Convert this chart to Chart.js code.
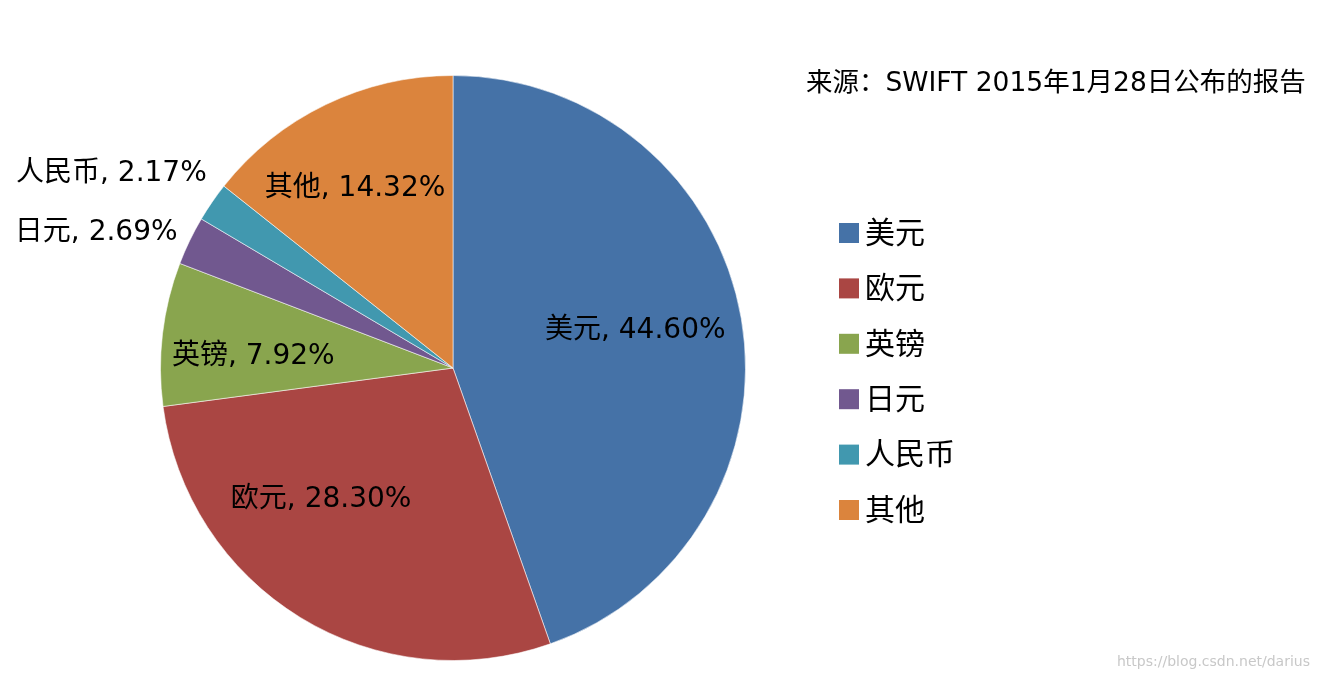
<!DOCTYPE html>
<html>
<head>
<meta charset="utf-8">
<script src="https://cdn.jsdelivr.net/npm/chart.js@4"></script>
<style>
  html, body { margin: 0; padding: 0; background: #fff; }
  #wrap { width: 1318px; height: 680px; }
</style>
</head>
<body>
<div id="wrap"><canvas id="grafico"></canvas></div>
<script>
// 数据
const monedas = ["美元", "欧元", "英镑", "日元", "人民币", "其他"];
const porcentajes = [44.60, 28.30, 7.92, 2.69, 2.17, 14.32];
const colores = ["#4572A7", "#AA4643", "#89A54E", "#71588F", "#4198AF", "#DB843D"];
const fuente = "来源：SWIFT 2015年1月28日公布的报告";
const marcaAgua = "https://blog.csdn.net/darius";

const FAMILIA = '"DejaVu Sans", "Noto Sans CJK SC", sans-serif';

// Etiquetas de cada sector, leyenda y textos
const textosPlugin = {
  id: "textos",
  afterDatasetsDraw(chart) {
    const ctx = chart.ctx;
    const arcos = chart.getDatasetMeta(0).data;
    // pequeños ajustes de las etiquetas (como el "mejor ajuste" de Excel)
    const ajustes = [[-8, -5], [-31, -33], [-8, 11], [9, 2], [14, -15], [-14, -5]];
    ctx.save();
    ctx.fillStyle = "#000";
    ctx.textBaseline = "middle";
    ctx.font = "28px " + FAMILIA;

    arcos.forEach((arco, i) => {
      const { x, y, startAngle, endAngle, outerRadius } = arco.getProps(
        ["x", "y", "startAngle", "endAngle", "outerRadius"], true);
      const medio = (startAngle + endAngle) / 2;
      const texto = monedas[i] + ", " + porcentajes[i].toFixed(2) + "%";
      const [dx, dy] = ajustes[i];
      if (porcentajes[i] > 5) {
        const r = outerRadius * 0.66;
        ctx.textAlign = "center";
        ctx.fillText(texto, x + Math.cos(medio) * r + dx, y + Math.sin(medio) * r + dy);
      } else {
        // sectores pequeños: etiqueta fuera del pastel
        const r = outerRadius * 1.08;
        ctx.textAlign = "right";
        ctx.fillText(texto, x + Math.cos(medio) * r + dx, y + Math.sin(medio) * r + dy);
      }
    });

    // leyenda
    ctx.font = "30px " + FAMILIA;
    ctx.textAlign = "left";
    monedas.forEach((m, i) => {
      const cy = 233 + i * 55.4;
      ctx.fillStyle = colores[i];
      ctx.fillRect(839, cy - 10, 20, 20);
      ctx.fillStyle = "#000";
      ctx.fillText(m, 865, cy + 2);
    });

    // fuente
    ctx.font = "26.5px " + FAMILIA;
    ctx.fillText(fuente, 806, 84);

    // marca de agua
    ctx.font = "14px " + FAMILIA;
    ctx.fillStyle = "#c8c8c8";
    ctx.textAlign = "right";
    ctx.fillText(marcaAgua, 1310, 662);
    ctx.restore();
  }
};

new Chart(document.getElementById("grafico"), {
  type: "pie",
  data: {
    labels: monedas,
    datasets: [{
      data: porcentajes,
      backgroundColor: colores,
      borderColor: "rgba(255,255,255,0.55)",
      borderWidth: 1
    }]
  },
  options: {
    responsive: true,
    maintainAspectRatio: false,
    animation: false,
    layout: { padding: { left: 160, right: 572, top: 75, bottom: 19 } },
    plugins: {
      legend: { display: false },
      tooltip: { enabled: false }
    }
  },
  plugins: [textosPlugin]
});
</script>
</body>
</html>
